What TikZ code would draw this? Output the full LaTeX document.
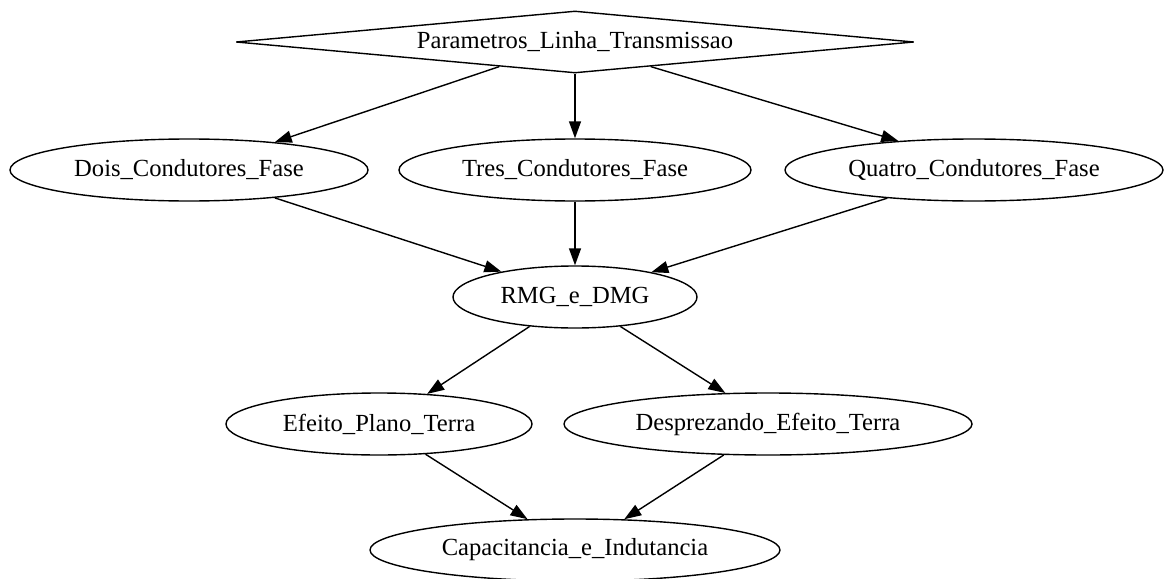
\documentclass[tikz,border=0pt]{standalone}
\usepackage{fontspec}
\setmainfont{Liberation Serif}
\usetikzlibrary{shapes.geometric,arrows.meta}
\begin{document}
\begin{tikzpicture}[x=1pt,y=-1pt,
  every node/.style={font=\fontsize{24.6}{29}\selectfont, inner sep=0pt, line width=1.4pt, draw=black},
  ell/.style={ellipse, minimum height=62pt},
  dia/.style={diamond, shape aspect=10.9, minimum width=678pt, minimum height=62pt},
  edge/.style={line width=1.4pt, -{Triangle[length=17pt,width=12pt]}}
]
\useasboundingbox (0,0) rectangle (1164,578);
\node[dia] (param) at (575,42) {Parametros\_Linha\_Transmissao};
\node[ell, minimum width=358pt] (dois) at (189,170) {Dois\_Condutores\_Fase};
\node[ell, minimum width=352pt] (tres) at (575,170) {Tres\_Condutores\_Fase};
\node[ell, minimum width=378pt] (quatro) at (974,170) {Quatro\_Condutores\_Fase};
\node[ell, minimum width=244pt] (rmg) at (575,297) {RMG\_e\_DMG};
\node[ell, minimum width=306pt] (efeito) at (379,424) {Efeito\_Plano\_Terra};
\node[ell, minimum width=408pt] (desp) at (768,424) {Desprezando\_Efeito\_Terra};
\node[ell, minimum width=410pt] (cap) at (575,550) {Capacitancia\_e\_Indutancia};

\draw[edge] (param.198.9) -- (dois.18.6);
\draw[edge] (param.south) -- (tres.north);
\draw[edge] (param.342.2) -- (quatro.159.8);
\draw[edge] (dois.342) -- (rmg.161.1);
\draw[edge] (tres.south) -- (rmg.north);
\draw[edge] (quatro.198.4) -- (rmg.18);
\draw[edge] (rmg.213.7) -- (efeito.32.9);
\draw[edge] (rmg.327.5) -- (desp.144.2);
\draw[edge] (efeito.327.1) -- (cap.147.5);
\draw[edge] (desp.215.8) -- (cap.32);
\end{tikzpicture}
\end{document}
